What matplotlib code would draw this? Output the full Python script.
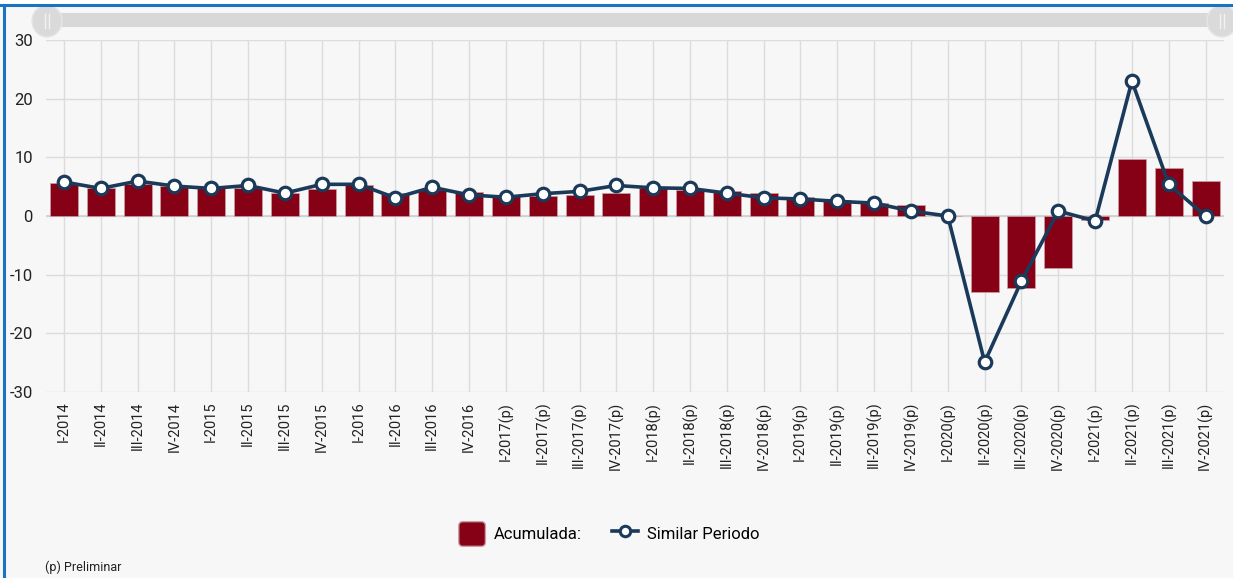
import matplotlib
matplotlib.use("Agg")
import matplotlib.pyplot as plt
from matplotlib.patches import Patch, FancyBboxPatch, Rectangle, Ellipse
from matplotlib.lines import Line2D
from matplotlib.legend_handler import HandlerPatch
import numpy as np

categories = ["I-2014", "II-2014", "III-2014", "IV-2014", "I-2015", "II-2015", "III-2015", "IV-2015",
              "I-2016", "II-2016", "III-2016", "IV-2016", "I-2017(p)", "II-2017(p)", "III-2017(p)", "IV-2017(p)",
              "I-2018(p)", "II-2018(p)", "III-2018(p)", "IV-2018(p)", "I-2019(p)", "II-2019(p)", "III-2019(p)", "IV-2019(p)",
              "I-2020(p)", "II-2020(p)", "III-2020(p)", "IV-2020(p)", "I-2021(p)", "II-2021(p)", "III-2021(p)", "IV-2021(p)"]

acumulada = [5.7, 4.8, 5.4, 5.1, 4.8, 4.8, 3.9, 4.6,
             5.2, 4.0, 4.5, 4.1, 3.6, 3.4, 3.6, 3.9,
             4.7, 4.5, 4.3, 4.0, 3.3, 2.7, 2.3, 1.9,
             0.0, -13.0, -12.3, -8.8, -0.6, 9.8, 8.2, 5.9]

similar_periodo = [5.8, 4.7, 5.95, 5.1, 4.7, 5.2, 3.9, 5.4,
                   5.4, 3.1, 4.9, 3.6, 3.2, 3.8, 4.2, 5.2,
                   4.8, 4.7, 3.9, 3.1, 2.9, 2.5, 2.2, 0.85,
                   0.0, -24.9, -11.1, 0.85, -0.85, 23.0, 5.4, 0.0]

yticks = [-30, -20, -10, 0, 10, 20, 30]

BAR = "#860016"
LINE = "#1b3a5a"
BG = "#f7f7f7"
GRID = "#dcdcdc"

W, H = 1233, 578
fig = plt.figure(figsize=(W / 100, H / 100), dpi=100)
fig.patch.set_facecolor(BG)

def fx(px):
    return px / W

def fy(py):
    return 1 - py / H

# white strip at top and blue frame
fig.add_artist(Rectangle((0, fy(5)), 1, 5 / H, transform=fig.transFigure, facecolor="white", edgecolor="none"))
fig.add_artist(Line2D([0, 1], [fy(5), fy(5)], transform=fig.transFigure, color="#1a72c2", lw=2.2))
fig.add_artist(Line2D([fx(4), fx(4)], [fy(5), 0], transform=fig.transFigure, color="#1a72c2", lw=2.2))

# scrollbar
fig.add_artist(Rectangle((fx(48), fy(27)), fx(1172), 14 / H, transform=fig.transFigure,
                         facecolor="#d8d8d8", edgecolor="none"))
for cx in (47, 1222):
    fig.add_artist(Ellipse((fx(cx), fy(21)), 30 / W, 32 / H, transform=fig.transFigure,
                           facecolor="#dadada", edgecolor="#e6e6e6", lw=1))
    for dx in (-2, 2):
        fig.add_artist(Line2D([fx(cx + dx), fx(cx + dx)], [fy(14), fy(28)], transform=fig.transFigure,
                              color="#f2f2f2", lw=1))

ax = fig.add_axes([fx(45.5), fy(392), fx(1224 - 45.5), (392 - 40) / H])
ax.set_facecolor(BG)
x = np.arange(len(categories))

ax.bar(x, acumulada, width=0.76, color=BAR, edgecolor="#c9a0a8", linewidth=0.5, zorder=2)
ax.plot(x, similar_periodo, color=LINE, lw=2.6, marker="o", markersize=9,
        markerfacecolor="white", markeredgecolor=LINE, markeredgewidth=2.3, zorder=3)

ax.set_xlim(-0.5, len(categories) - 0.5)
ax.set_ylim(-30, 30)
ax.set_yticks(yticks)
ax.set_xticks(x)
ax.set_xticklabels(categories, rotation=90, fontfamily="Roboto", fontsize=10.5, color="#222222")
ax.set_yticklabels([str(v) for v in yticks], fontfamily="Roboto", fontsize=12, color="#222222")
ax.tick_params(axis="both", length=0)
ax.tick_params(axis="y", pad=9)
ax.tick_params(axis="x", pad=7)
ax.grid(True, color=GRID, lw=1, zorder=0)
ax.set_axisbelow(True)
ax.axhline(0, color="#cfcfcf", lw=1.2, zorder=1)
for s in ax.spines.values():
    s.set_visible(False)


def rounded_patch(legend, orig_handle, xdescent, ydescent, width, height, fontsize):
    return FancyBboxPatch((-xdescent + 1.5, -ydescent + 1.5), width - 3, height - 3,
                          boxstyle="round,pad=1.5,rounding_size=3")


handles = [Patch(facecolor=BAR, edgecolor="#c9a0a8", label="Acumulada:"),
           Line2D([], [], color=LINE, lw=2.6, marker="o", markersize=7.5, markerfacecolor="white",
                  markeredgecolor=LINE, markeredgewidth=2.2, label="Similar Periodo")]
fig.legend(handles=handles, loc="center", bbox_to_anchor=(fx(609), fy(534)), ncol=2, frameon=False,
           prop={"family": "Roboto", "size": 12}, handlelength=1.6, handleheight=1.9,
           handletextpad=0.5, columnspacing=1.8,
           handler_map={Patch: HandlerPatch(patch_func=rounded_patch)})

fig.text(fx(45), fy(567), "(p) Preliminar", fontfamily="Roboto", fontsize=9, color="#222222", va="center")

fig.savefig("out.png", dpi=100, facecolor=BG)
